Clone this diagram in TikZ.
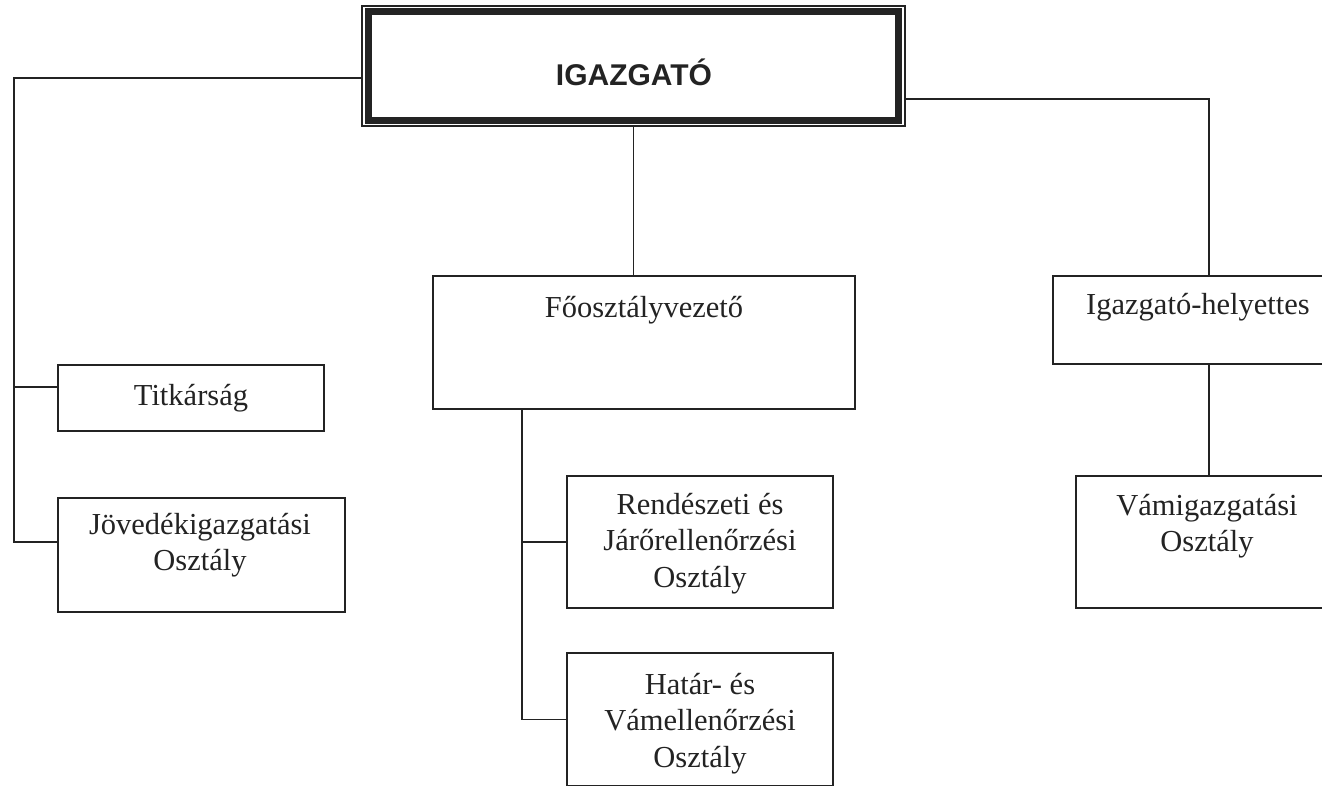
\documentclass[tikz,border=0pt]{standalone}
\usepackage{fontspec}
\setmainfont{Liberation Serif}
\newfontfamily\headfont{Liberation Sans}
\usetikzlibrary{fit}
\definecolor{ink}{RGB}{35,35,35}
\newcommand\firststrut{\rule{0pt}{24pt}}
\begin{document}
\begin{tikzpicture}[x=1pt,y=-1pt,
  ln/.style={draw=ink, line width=1.6pt},
  unitbox/.style={draw=ink, line width=1.6pt, inner sep=0pt, rectangle},
  txt/.style={inner sep=0pt, align=center, text=ink, font=\fontsize{30.5}{36.5}\selectfont},
  txtblock/.style={txt, anchor=north},
  txtline/.style={txt, anchor=base}]
\useasboundingbox (0,0) rectangle (1322,785);
\fill[white] (0,0) rectangle (1322,785);
\clip (0,0) rectangle (1322,785);

% head office: thin outer frame with a heavy inner frame
\node[draw=ink, line width=1.3pt, inner sep=0pt, fit={(362,6) (905,126)}] (top) {};
\draw[ink, line width=7pt] ([xshift=7pt,yshift=-6.5pt]top.north west) rectangle ([xshift=-7pt,yshift=6.5pt]top.south east);
\node[txtline, font=\headfont\bfseries\fontsize{30}{35}\selectfont] (topT) at (634,85) {IGAZGATÓ};

% left branch
\node[unitbox, fit={(58,365) (324,431)}] (tit) {};
\node[txtline] (titT) at (191,405) {Titkárság};
\node[unitbox, fit={(58,498) (345,612)}] (jov) {};
\node[txtblock] (jovT) at (200,510) {\firststrut Jövedékigazgatási\\Osztály};

% middle branch
\node[unitbox, fit={(433,276) (855,409)}] (fo) {};
\node[txtline] (foT) at (644,317) {Főosztályvezető};
\node[unitbox, fit={(567,476) (833,608)}] (ren) {};
\node[txtblock] (renT) at (700,490) {\firststrut Rendészeti és\\Járőrellenőrzési\\Osztály};
\node[unitbox, fit={(567,653) (833,786)}] (hat) {};
\node[txtblock] (hatT) at (700,670) {\firststrut Határ- és\\Vámellenőrzési\\Osztály};

% right branch
\node[unitbox, fit={(1053,276) (1343,364)}] (ih) {};
\node[txtline] (ihT) at (1198,314) {Igazgató-helyettes};
\node[unitbox, fit={(1076,476) (1338,608)}] (vam) {};
\node[txtblock] (vamT) at (1207,491) {\firststrut Vámigazgatási\\Osztály};

% connector buses
\coordinate (lbus) at (14,0);
\coordinate (sbus) at (522,0);
\coordinate (rbus) at (1209,0);
\coordinate (titIn) at ([yshift=11pt]tit.west);
\coordinate (jovIn) at ([yshift=13pt]jov.west);

\draw[ln] ([yshift=-12pt]top.west) -| (lbus |- jovIn) -- (jovIn);
\draw[ln] (lbus |- titIn) -- (titIn);

\draw[ln] (top.south) -- (top.south |- fo.north);
\draw[ln] (sbus |- fo.south) |- (hat.west);
\draw[ln] (sbus |- ren.west) -- (ren.west);

\draw[ln] ([yshift=-33pt]top.east) -| (rbus |- ih.north);
\draw[ln] (rbus |- ih.south) -- (rbus |- vam.north);
\end{tikzpicture}
\end{document}
